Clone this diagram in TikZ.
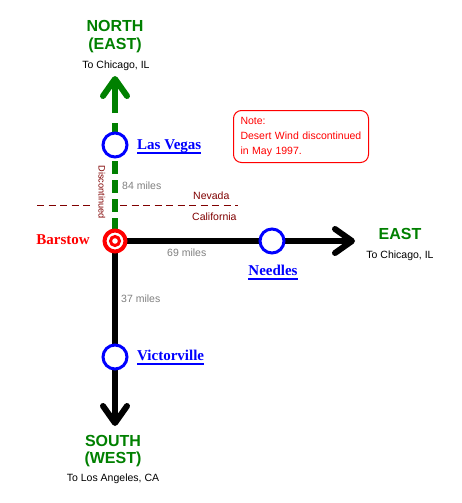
\documentclass[tikz,border=0pt]{standalone}
\usepackage{fontspec}
\setmainfont{Liberation Serif}
\setsansfont{Liberation Sans}
\usetikzlibrary{backgrounds}
\definecolor{dgreen}{HTML}{008000}
\definecolor{dred}{HTML}{800000}
\definecolor{lblue}{HTML}{0000FF}
\definecolor{mgray}{HTML}{808080}
\newcommand\myul[1]{\setbox0\hbox{#1}\rlap{\rule[-4.5pt]{\wd0}{1.8pt}}\box0}
\begin{document}
\begin{tikzpicture}[x=1pt,y=-1pt,
  small/.style={font=\sffamily\fontsize{10.5}{12}\selectfont, inner sep=0},
  dirlabel/.style={font=\sffamily\bfseries\fontsize{16}{18}\selectfont, text=dgreen, inner sep=0},
  town/.style={font=\rmfamily\bfseries\fontsize{15}{17}\selectfont, text=lblue, inner sep=0},
  stop/.style={circle, draw=lblue, line width=3pt, fill=white, minimum size=24pt, inner sep=0},
  miles/.style={small, text=mgray},
  rail/.style={line width=6pt},
  chev/.style={line width=6pt, line cap=round, line join=round},
  border/.style={dred, line width=1pt, dash pattern=on 7pt off 4.5pt},
  notebox/.style={draw=red, line width=1pt, rounded corners=8pt, text=red, align=left,
    font=\sffamily\fontsize{10.5}{15}\selectfont, inner xsep=7pt, inner ysep=0pt,
    text width=121pt, minimum height=52pt}
]
\useasboundingbox (0,0) rectangle (461,503);

% north
\node[dirlabel, anchor=base] (north) at (115,32) {NORTH};
\node[dirlabel, anchor=base] (northeast) at (115,50) {(EAST)};
\node[small, anchor=base] (northsub) at (116,69) {To Chicago, IL};

% stops
\node[stop] (lasvegas) at (115,145) {};
\node[town, anchor=base west] (lvlabel) at (137,149) {\myul{Las Vegas}};
\node[stop] (needles) at (272,241) {};
\node[town, anchor=base] (ndlabel) at (273,275) {\myul{Needles}};
\node[stop] (victorville) at (115,357) {};
\node[town, anchor=base west] (vvlabel) at (137,360) {\myul{Victorville}};

% Barstow
\node[circle, draw=red, line width=4pt, fill=white, minimum size=21pt, inner sep=0] (barstow) at (115,241) {};
\node[circle, draw=red, line width=3pt, minimum size=9pt, inner sep=0] (barstowin) at (barstow.center) {};
\node[font=\rmfamily\bfseries\fontsize{15}{17}\selectfont, text=red, anchor=base east, inner sep=0] (barlabel) at (90,244) {Barstow};

% labels
\node[small, font=\sffamily\fontsize{9.2}{11}\selectfont, text=dred, rotate=-90] (disc) at (102,192) {Discontinued};
\node[miles, anchor=base west] (m84) at (122,189) {84 miles};
\node[miles, anchor=base west] (m69) at (167,256) {69 miles};
\node[miles, anchor=base west] (m37) at (121,302) {37 miles};
\node[small, text=dred, anchor=base west] (nevada) at (193,199) {Nevada};
\node[small, text=dred, anchor=base west] (calif) at (192,220) {California};

% east
\node[dirlabel, anchor=base] (east) at (400,239) {EAST};
\node[small, anchor=base] (eastsub) at (400,258) {To Chicago, IL};

% south
\node[dirlabel, anchor=base] (south) at (113,446) {SOUTH};
\node[dirlabel, anchor=base] (southwest) at (113,463) {(WEST)};
\node[small, anchor=base] (southsub) at (113,481) {To Los Angeles, CA};

% note
\node[notebox, anchor=north west] (note) at (233,110) {Note:\\Desert Wind discontinued\\in May 1997.};

% coordinates
\coordinate (nstart) at (115,123);
\coordinate (nshaft) at (115,113);
\coordinate (ntip) at (115,79);
\coordinate (etip) at (352,241);
\coordinate (stip) at (115,423);
\coordinate (wl1) at (37,205);
\coordinate (wl2) at (94,205);
\coordinate (wr1) at (120,205);
\coordinate (wr2) at (238,205);

\begin{scope}[on background layer]
  \fill[white] (0,0) rectangle (461,503);
  \draw[border] (wl1) -- (wl2);
  \draw[border] (wr1) -- (wr2);
  \draw[rail, dgreen, dash pattern=on 13pt off 6pt] (nstart) -- (barstow.center);
  \draw[rail, dgreen] (nshaft) -- (ntip);
  \draw[chev, dgreen] ([shift={(-12,17)}]ntip) -- (ntip) -- ([shift={(12,17)}]ntip);
  \draw[rail] (barstow.center) -- (etip);
  \draw[chev] ([shift={(-17,-12)}]etip) -- (etip) -- ([shift={(-17,12)}]etip);
  \draw[rail] (barstow.center) -- (stip);
  \draw[chev] ([shift={(-12,-17)}]stip) -- (stip) -- ([shift={(12,-17)}]stip);
\end{scope}
\end{tikzpicture}
\end{document}
